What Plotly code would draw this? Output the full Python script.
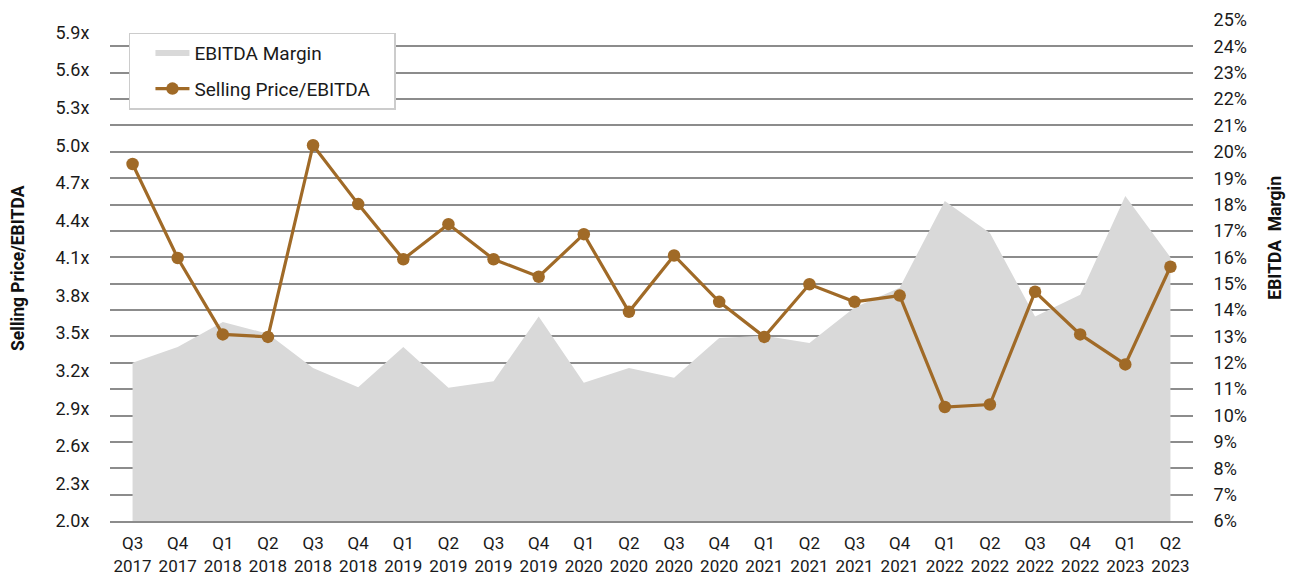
import plotly.graph_objects as go

quarters = ["Q3<br>2017", "Q4<br>2017", "Q1<br>2018", "Q2<br>2018", "Q3<br>2018", "Q4<br>2018",
            "Q1<br>2019", "Q2<br>2019", "Q3<br>2019", "Q4<br>2019", "Q1<br>2020", "Q2<br>2020",
            "Q3<br>2020", "Q4<br>2020", "Q1<br>2021", "Q2<br>2021", "Q3<br>2021", "Q4<br>2021",
            "Q1<br>2022", "Q2<br>2022", "Q3<br>2022", "Q4<br>2022", "Q1<br>2023", "Q2<br>2023"]

ebitda_margin = [0.120, 0.126, 0.1355, 0.131, 0.118, 0.1107, 0.126, 0.1105, 0.113, 0.1376,
                 0.1124, 0.118, 0.1143, 0.1294, 0.1303, 0.1275, 0.141, 0.1485,
                 0.1814, 0.1692, 0.1376, 0.1458, 0.1833, 0.160]

selling_price_ebitda = [4.85, 4.10, 3.49, 3.47, 5.00, 4.53, 4.09, 4.37, 4.09, 3.95, 4.29, 3.67,
                        4.12, 3.75, 3.47, 3.89, 3.75, 3.80, 2.91, 2.93, 3.83, 3.49, 3.25, 4.03]

left_ticks = [2.0, 2.3, 2.6, 2.9, 3.2, 3.5, 3.8, 4.1, 4.4, 4.7, 5.0, 5.3, 5.6, 5.9]
right_ticks = [0.06, 0.07, 0.08, 0.09, 0.10, 0.11, 0.12, 0.13, 0.14, 0.15, 0.16, 0.17,
               0.18, 0.19, 0.20, 0.21, 0.22, 0.23, 0.24, 0.25]

BROWN = "#A06A27"
FONT = "Roboto"
TXT = "#1a1a1a"
PAD = "\u00a0" * 4

fig = go.Figure()
fig.add_trace(go.Scatter(
    x=quarters, y=ebitda_margin, name="EBITDA Margin" + PAD, mode="none",
    fill="tozeroy", fillcolor="#D9D9D9", yaxis="y", legendgroup="a",
))
fig.add_trace(go.Scatter(
    x=quarters, y=selling_price_ebitda, name="Selling Price/EBITDA" + PAD, mode="lines+markers",
    line=dict(color=BROWN, width=3.2), marker=dict(color=BROWN, size=12.5),
    yaxis="y2", legendgroup="b",
))

fig.update_layout(
    width=1290, height=577,
    margin=dict(l=110, r=97, t=20, b=56),
    paper_bgcolor="white", plot_bgcolor="white",
    font=dict(family=FONT, size=18, color=TXT),
    showlegend=True,
    legend=dict(
        x=0.0175, y=0.975, xanchor="left", yanchor="top",
        bordercolor="#CCCCCC", borderwidth=1.5, bgcolor="white",
        font=dict(family=FONT, size=19, color=TXT),
        tracegroupgap=8, traceorder="grouped",
        indentation=20, itemwidth=34,
    ),
    xaxis=dict(
        type="category", range=[-0.5, 23.5], showgrid=False, automargin=False,
        showline=True, linecolor="#8C8C8C", linewidth=2,
        ticks="outside", ticklen=6, tickcolor="rgba(0,0,0,0)",
        tickfont=dict(family=FONT, size=17, color=TXT),
    ),
    yaxis=dict(
        side="right", range=[0.06, 0.25], tickmode="array", tickvals=right_ticks,
        tickformat=".0%", showgrid=True, gridcolor="#8C8C8C", gridwidth=1.5,
        zeroline=False, showline=False, automargin=False,
        ticks="outside", ticklen=16, tickcolor="rgba(0,0,0,0)",
        tickfont=dict(family=FONT, size=18, color=TXT),
    ),
    yaxis2=dict(
        side="left", overlaying="y", range=[2.0, 6.0], tickmode="array",
        tickvals=left_ticks, ticktext=[f"{v:.1f}x" for v in left_ticks],
        showgrid=False, zeroline=False, showline=False, automargin=False,
        ticks="outside", ticklen=16, tickcolor="rgba(0,0,0,0)",
        tickfont=dict(family=FONT, size=18, color=TXT),
    ),
    annotations=[
        dict(text="<b>Selling Price/EBITDA</b>", textangle=-90, xref="paper", yref="paper",
             x=-0.085, y=0.505, xanchor="center", yanchor="middle", showarrow=False,
             font=dict(family=FONT, size=17.5, color="#111111")),
        dict(text="<b>EBITDA  Margin</b>", textangle=-90, xref="paper", yref="paper",
             x=1.0755, y=0.565, xanchor="center", yanchor="middle", showarrow=False,
             font=dict(family=FONT, size=17.5, color="#111111")),
    ],
)

fig.write_html("out.html", config={"displayModeBar": False},
               post_script="document.body.style.margin='0';document.body.style.overflow='hidden';")
